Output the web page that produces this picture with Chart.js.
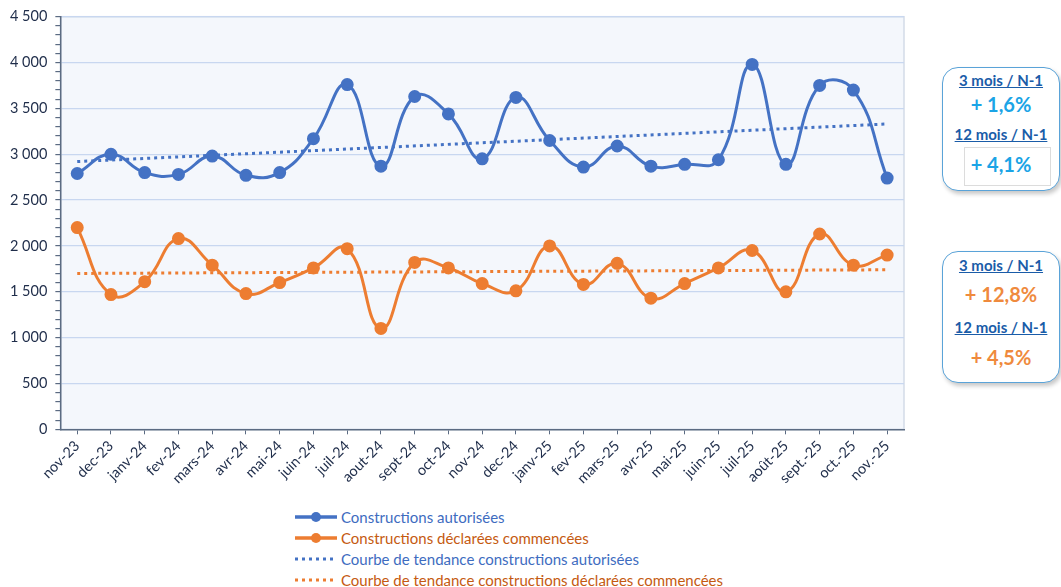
<!DOCTYPE html>
<html lang="fr">
<head>
<meta charset="utf-8">
<script src="https://cdn.jsdelivr.net/npm/chart.js@4.4.1/dist/chart.umd.min.js"></script>
<style>
    body { margin: 0; background: #ffffff; font-family: Lato, 'Liberation Sans', sans-serif; }
    #wrap { position: absolute; left: 0; top: 0; width: 918px; height: 494px; }
    #legend { position: absolute; left: 294px; top: 506px; font-size: 15px; }
    .row { height: 21px; display: flex; align-items: center; }
    .row svg { margin-right: 2px; }
    .box {
        position: absolute; left: 942px; width: 116px;
        border: 1.5px solid #5aa3d8; border-radius: 16px;
        box-shadow: 2px 3px 4px rgba(0, 0, 0, 0.22); background: #fff;
    }
    .t { position: absolute; left: 0; width: 100%; text-align: center; font-weight: bold; }
    .head { color: #1a5ca8; font-size: 15px; text-decoration: underline; }
    .val { font-size: 20px; }
    .blue { color: #1ba4e6; }
    .orange { color: #ef8a3d; }
    .inner { position: absolute; left: 21px; top: 79px; width: 85px; height: 37px; border: 1px solid #dcdcdc; }
</style>
</head>
<body>
<div id="wrap"><canvas id="chart"></canvas></div>

<div id="legend"></div>

<!-- encadrés à droite -->
<div class="box" style="top:67px;height:122px;">
    <div class="t head" style="top:3px;">3 mois / N-1</div>
    <div class="t val blue" style="top:24px;">+ 1,6%</div>
    <div class="t head" style="top:57px;">12 mois / N-1</div>
    <div class="inner"></div>
    <div class="t val blue" style="top:84px;">+ 4,1%</div>
</div>
<div class="box" style="top:251px;height:130px;">
    <div class="t head" style="top:4px;">3 mois / N-1</div>
    <div class="t val orange" style="top:30px;">+ 12,8%</div>
    <div class="t head" style="top:66px;">12 mois / N-1</div>
    <div class="t val orange" style="top:93px;">+ 4,5%</div>
</div>

<script>
'use strict';

const months = ['nov-23', 'dec-23', 'janv-24', 'fev-24', 'mars-24', 'avr-24', 'mai-24', 'juin-24',
    'juil-24', 'aout-24', 'sept-24', 'oct-24', 'nov-24', 'dec-24', 'janv-25', 'fev-25', 'mars-25',
    'avr-25', 'mai-25', 'juin-25', 'juil-25', 'août-25', 'sept.-25', 'oct.-25', 'nov.-25'];

const autorisees = [2790, 3000, 2800, 2780, 2980, 2770, 2800, 3170, 3760, 2870, 3630, 3440, 2950,
    3620, 3150, 2860, 3090, 2870, 2890, 2940, 3980, 2890, 3750, 3700, 2740];

const commencees = [2200, 1470, 1610, 2080, 1790, 1480, 1600, 1760, 1970, 1100, 1820, 1760, 1590,
    1510, 2000, 1580, 1810, 1430, 1590, 1760, 1950, 1500, 2130, 1790, 1900];

// tendances : valeurs lues aux deux extrémités
const tendanceAut = [2920, null, null, null, null, null, null, null, null, null, null, null, null,
    null, null, null, null, null, null, null, null, null, null, null, 3330];
const tendanceCom = [1700, null, null, null, null, null, null, null, null, null, null, null, null,
    null, null, null, null, null, null, null, null, null, null, null, 1740];

const legendLabels = ['Constructions autorisées', 'Constructions déclarées commencées',
    'Courbe de tendance constructions autorisées', 'Courbe de tendance constructions déclarées commencées'];

const BLUE = '#4472c4';
const ORANGE = '#ed7d31';
const TXT = '#1f2d4a';
const FONT = "Lato, 'Liberation Sans', sans-serif";

// fond de la zone de traçage
const plotBg = {
    id: 'plotBg',
    beforeDraw(chart) {
        const { ctx, chartArea: a } = chart;
        ctx.save();
        ctx.fillStyle = '#f4f7fc';
        ctx.fillRect(a.left, a.top, a.right - a.left, a.bottom - a.top);
        ctx.strokeStyle = '#d3dbe8';
        ctx.lineWidth = 1.5;
        ctx.strokeRect(a.left, a.top, a.right - a.left, a.bottom - a.top);
        ctx.restore();
    },
};

function fmt(v) {
    return String(v).replace(/\B(?=(\d{3})+(?!\d))/g, ' ');
}

const chart = new Chart(document.getElementById('chart'), {
    type: 'line',
    plugins: [plotBg],
    data: {
        labels: months,
        datasets: [
            {
                label: legendLabels[0],
                data: autorisees,
                borderColor: BLUE,
                backgroundColor: BLUE,
                borderWidth: 3,
                pointRadius: 5,
                tension: 0.45,
            },
            {
                label: legendLabels[1],
                data: commencees,
                borderColor: ORANGE,
                backgroundColor: ORANGE,
                borderWidth: 3,
                pointRadius: 5,
                tension: 0.45,
            },
            {
                label: legendLabels[2],
                data: tendanceAut,
                borderColor: BLUE,
                borderWidth: 3,
                borderDash: [3, 4],
                pointRadius: 0,
                spanGaps: true,
            },
            {
                label: legendLabels[3],
                data: tendanceCom,
                borderColor: ORANGE,
                borderWidth: 3,
                borderDash: [3, 4],
                pointRadius: 0,
                spanGaps: true,
            },
        ],
    },
    options: {
        responsive: true,
        maintainAspectRatio: false,
        animation: false,
        layout: { padding: { top: 10, right: 14, left: 2, bottom: 4 } },
        scales: {
            x: {
                offset: true,
                border: { display: true, color: '#5b6b82', width: 1.5 },
                grid: { drawOnChartArea: false, tickColor: '#5b6b82', tickLength: 5, offset: false },
                ticks: {
                    color: TXT,
                    font: { family: FONT, size: 14.5 },
                    minRotation: 45,
                    maxRotation: 45,
                    autoSkip: false,
                },
            },
            y: {
                min: 0,
                max: 4500,
                border: { display: true, color: '#5b6b82', width: 1.5 },
                grid: {
                    color: (ctx) => (ctx.tick && ctx.tick.value % 500 === 0 && ctx.tick.value > 0 ? '#c8d7f0' : 'rgba(0,0,0,0)'),
                    lineWidth: 1.2,
                    tickColor: '#5b6b82',
                    tickLength: 5,
                },
                ticks: {
                    stepSize: 100,
                    autoSkip: false,
                    color: TXT,
                    padding: 8,
                    font: { family: FONT, size: 14.5 },
                    callback: (v) => (v % 500 === 0 ? fmt(v) : ''),
                },
            },
        },
        plugins: {
            legend: { display: false },
            tooltip: { enabled: false },
        },
    },
});

// légende verticale en HTML
const legendEl = document.getElementById('legend');
const legendColors = [[BLUE, '#3e6cbf'], [ORANGE, '#c55a11'], [BLUE, '#3e6cbf'], [ORANGE, '#c55a11']];
legendLabels.forEach((text, i) => {
    const [c, tc] = legendColors[i];
    const sample = i < 2
        ? `<line x1="1" y1="8" x2="43" y2="8" stroke="${c}" stroke-width="3.5"/><circle cx="22" cy="8" r="5" fill="${c}"/>`
        : `<line x1="1" y1="8" x2="43" y2="8" stroke="${c}" stroke-width="3" stroke-dasharray="3 4"/>`;
    const row = document.createElement('div');
    row.className = 'row';
    row.innerHTML = `<svg width="45" height="16">${sample}</svg><span style="color:${tc}">${text}</span>`;
    legendEl.appendChild(row);
});
</script>
</body>
</html>
